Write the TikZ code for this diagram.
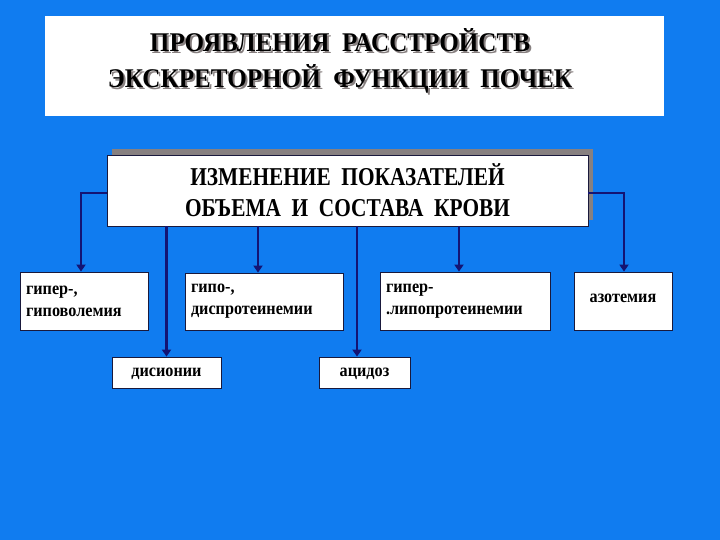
\documentclass[tikz,border=0pt]{standalone}
\usepackage{fontspec}
\usetikzlibrary{arrows.meta}
\newfontfamily\headfont[FakeStretch=0.93]{Liberation Serif}
\newfontfamily\mainfont[FakeStretch=0.83]{Liberation Serif}
\newfontfamily\itemfont[FakeStretch=0.9]{Liberation Serif}
\definecolor{slideblue}{RGB}{16,124,240}
\definecolor{linknavy}{RGB}{20,20,115}
\definecolor{shadowgray}{RGB}{135,128,128}
\tikzset{
    itembox/.style={draw={rgb,255:red,25;green,25;blue,60}, fill=white, line width=0.8pt,
        inner xsep=6pt, font=\itemfont\bfseries\fontsize{18}{22}\selectfont},
    link/.style={linknavy, line width=2.6pt, -{Triangle[width=9pt,length=7pt]}},
}
\begin{document}
\begin{tikzpicture}[x=1pt,y=-1pt]
    % Background
    \fill[slideblue] (0,0) rectangle (720,540);
    \useasboundingbox (0,0) rectangle (720,540);

    % Title box
    \fill[white] (45,16) rectangle (664,116);
    \node[shadowgray, align=center, font=\headfont\bfseries\fontsize{27}{36}\selectfont]
        (titleshadow) at (342,63) {ПРОЯВЛЕНИЯ\ \ РАССТРОЙСТВ\\ЭКСКРЕТОРНОЙ\ \ ФУНКЦИИ\ \ ПОЧЕК};
    \node[black, align=center, font=\headfont\bfseries\fontsize{27}{36}\selectfont]
        (title) at (340,61) {ПРОЯВЛЕНИЯ\ \ РАССТРОЙСТВ\\ЭКСКРЕТОРНОЙ\ \ ФУНКЦИИ\ \ ПОЧЕК};

    % Main box with its shadow
    \fill[shadowgray] (112,149) rectangle (593,220);
    \node[draw={rgb,255:red,25;green,25;blue,60}, fill=white, line width=0.6pt,
        minimum width=481pt, minimum height=71pt, align=center,
        font=\mainfont\bfseries\fontsize{25.7}{31}\selectfont]
        (main) at (347.5,190.5) {ИЗМЕНЕНИЕ\ \ ПОКАЗАТЕЛЕЙ\\ОБЪЕМА\ \ И\ \ СОСТАВА\ \ КРОВИ};

    % Upper row
    \node[itembox, minimum height=58pt, text width=116pt, align=left]
        (hyper) at (84,301) {гипер-,\\гиповолемия};
    \node[itembox, minimum height=57pt, text width=146pt, align=left]
        (hypo) at (264,301.5) {гипо-,\\диспротеинемии};
    \node[itembox, minimum height=58pt, text width=158pt, align=left]
        (lipo) at (465,301) {гипер-\\.липопротеинемии};
    \node[itembox, minimum height=58pt, minimum width=98pt, text depth=6pt]
        (azot) at (623,301) {азотемия};

    % Lower row
    \node[itembox, minimum height=31pt, minimum width=109pt, text depth=0pt]
        (dision) at (166.5,372.5) {дисионии};
    \node[itembox, minimum height=31pt, minimum width=91pt, text depth=0pt]
        (acid) at (364.5,372.5) {ацидоз};

    % Connectors
    \draw[link] ([yshift=-2.5pt]main.west) -| ([xshift=-3pt]hyper.north);
    \draw[link] ([yshift=-2.5pt]main.east) -| ([xshift=1pt]azot.north);
    \draw[link] (main.south -| dision.north) -- (dision.north);
    \draw[link] ([xshift=-6pt]hypo.north |- main.south) -- ([xshift=-6pt]hypo.north);
    \draw[link] ([xshift=-7.5pt]acid.north |- main.south) -- ([xshift=-7.5pt]acid.north);
    \draw[link] ([xshift=-6pt]lipo.north |- main.south) -- ([xshift=-6pt]lipo.north);
\end{tikzpicture}
\end{document}
